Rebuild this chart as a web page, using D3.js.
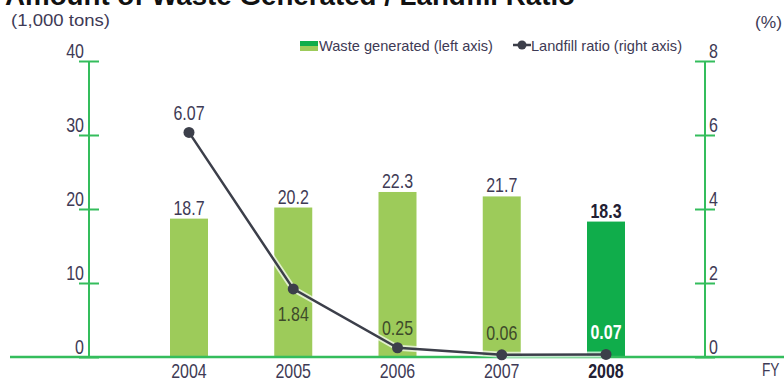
<!DOCTYPE html>
<html><head><meta charset="utf-8">
<script src="https://cdn.jsdelivr.net/npm/d3@7"></script>
<style>body{margin:0;background:#fff}svg{display:block}</style>
</head><body>
<svg id="c" width="784" height="381"></svg>
<script>
const years = ["2004","2005","2006","2007","2008"];
const waste = [18.7, 20.2, 22.3, 21.7, 18.3];
const landfill = [6.07, 1.84, 0.25, 0.06, 0.07];
const leftTicks = [0, 10, 20, 30, 40];
const rightTicks = [0, 2, 4, 6, 8];
const title = "Amount of Waste Generated / Landfill Ratio";
const leftUnit = "(1,000 tons)";
const rightUnit = "(%)";
const xUnit = "FY";
const legendWaste = "Waste generated (left axis)";
const legendLandfill = "Landfill ratio (right axis)";

const FONT = "'Liberation Sans',Arial,sans-serif";
const TXT = "#3e3a55";
const GREEN = "#34bd5c";
const LIGHT = "#9dcb5a";
const DARK = "#10ad4b";
const LINE = "#3c3f4a";
const SQUEEZE = 0.76;
const FS = 21;

const svg = d3.select("#c").style("font-family", FONT);
const x = d3.scalePoint().domain(years).range([189, 606]);
const yL = d3.scaleLinear().domain([0, 40]).range([357, 61]);
const yR = d3.scaleLinear().domain([0, 8]).range([357, 61]);
const barW = 38;

// title (cut at top, as in the reference)
svg.append("text").attr("class", "fixed").attr("x", 5).attr("y", 5)
  .attr("font-weight", "bold").attr("font-size", 27).attr("fill", "#111")
  .attr("textLength", 570).attr("lengthAdjust", "spacingAndGlyphs").text(title);

svg.append("text").attr("class", "fixed").attr("x", 11).attr("y", 26).attr("font-size", 17).attr("fill", TXT)
  .attr("textLength", 99).attr("lengthAdjust", "spacingAndGlyphs").text(leftUnit);
svg.append("text").attr("class", "fixed").attr("x", 755).attr("y", 28).attr("font-size", 17).attr("fill", TXT)
  .attr("textLength", 27).attr("lengthAdjust", "spacingAndGlyphs").text(rightUnit);

// bars
svg.selectAll("rect.bar").data(years).join("rect").attr("class", "bar")
  .attr("x", d => x(d) - barW / 2).attr("width", barW)
  .attr("y", (d, i) => yL(waste[i])).attr("height", (d, i) => yL(0) - yL(waste[i]))
  .attr("fill", (d, i) => i === years.length - 1 ? DARK : LIGHT);

// bar labels
svg.selectAll("text.bl").data(years).join("text").attr("class", "bl")
  .attr("x", d => x(d)).attr("y", (d, i) => yL(waste[i]) - 4)
  .attr("text-anchor", "middle").attr("font-size", FS)
  .attr("font-weight", (d, i) => i === years.length - 1 ? "bold" : "normal")
  .attr("fill", (d, i) => i === years.length - 1 ? "#222033" : TXT)
  .attr("stroke", "#fff").attr("stroke-width", 3).attr("paint-order", "stroke")
  .text((d, i) => waste[i].toFixed(1));

// axes
const axL = d3.axisRight(yL).tickValues(leftTicks).tickSize(10).tickFormat(d3.format("d"));
const gL = svg.append("g").attr("transform", "translate(89,0)").call(axL);
const axR = d3.axisRight(yR).tickValues(rightTicks).tickSize(10).tickFormat(d3.format("d"));
const gR = svg.append("g").attr("transform", "translate(705,0)").call(axR);
[gL, gR].forEach((g, k) => {
  g.select(".domain").attr("d", `M0,${yL(40)}V${yL(0)}`).attr("stroke", GREEN).attr("stroke-width", 2);
  g.selectAll(".tick line").attr("x1", -10).attr("x2", 10).attr("stroke", GREEN).attr("stroke-width", 2);
  g.selectAll(".tick text").attr("font-size", FS).attr("fill", TXT).attr("font-family", FONT)
    .attr("dy", "-4").attr("y", 0)
    .attr("x", k === 0 ? -5 : 4).attr("text-anchor", k === 0 ? "end" : "start");
});

// baseline
svg.append("line").attr("x1", 10).attr("x2", 784).attr("y1", yL(0)).attr("y2", yL(0))
  .attr("stroke", GREEN).attr("stroke-width", 2.5);

// line
const lineGen = d3.line().x((d, i) => x(years[i])).y(d => yR(d));
svg.append("path").datum(landfill).attr("d", lineGen).attr("fill", "none")
  .attr("stroke", "#fff").attr("stroke-opacity", 0.7).attr("stroke-width", 6);
svg.append("path").datum(landfill).attr("d", lineGen).attr("fill", "none")
  .attr("stroke", LINE).attr("stroke-width", 2.5);
svg.selectAll("circle.pt").data(landfill).join("circle").attr("class", "pt")
  .attr("cx", (d, i) => x(years[i])).attr("cy", d => yR(d)).attr("r", 5.5).attr("fill", LINE);

// point labels
const off = [-12, 32, -13, -15, -15];
svg.selectAll("text.pl").data(landfill).join("text").attr("class", "pl")
  .attr("x", (d, i) => x(years[i])).attr("y", (d, i) => yR(d) + off[i])
  .attr("text-anchor", "middle").attr("font-size", FS)
  .attr("font-weight", (d, i) => i === years.length - 1 ? "bold" : "normal")
  .attr("fill", (d, i) => i === years.length - 1 ? "#fff" : (i === 0 ? TXT : "#3d4a2a"))
  .text(d => d.toFixed(2));

// year labels
svg.selectAll("text.yr").data(years).join("text").attr("class", "yr")
  .attr("x", d => x(d)).attr("y", 378).attr("text-anchor", "middle").attr("font-size", FS)
  .attr("font-weight", (d, i) => i === years.length - 1 ? "bold" : "normal")
  .attr("fill", (d, i) => i === years.length - 1 ? "#222033" : TXT).text(d => d);
svg.append("text").attr("x", 762).attr("y", 376).attr("font-size", 18).attr("fill", TXT).text(xUnit);

// legend
const lg = svg.append("g");
lg.append("rect").attr("x", 300).attr("y", 41).attr("width", 18).attr("height", 5).attr("fill", DARK);
lg.append("rect").attr("x", 300).attr("y", 46).attr("width", 18).attr("height", 5).attr("fill", LIGHT);
lg.append("text").attr("class", "fixed").attr("x", 319).attr("y", 51).attr("font-size", 15).attr("fill", TXT)
  .attr("textLength", 174).attr("lengthAdjust", "spacingAndGlyphs").text(legendWaste);
lg.append("line").attr("x1", 513).attr("x2", 531).attr("y1", 45).attr("y2", 45).attr("stroke", LINE).attr("stroke-width", 2.5);
lg.append("circle").attr("cx", 522).attr("cy", 45).attr("r", 4.5).attr("fill", LINE);
lg.append("text").attr("class", "fixed").attr("x", 531).attr("y", 51).attr("font-size", 15).attr("fill", TXT)
  .attr("textLength", 151).attr("lengthAdjust", "spacingAndGlyphs").text(legendLandfill);

// condense remaining texts (reference uses a condensed face)
svg.selectAll("text").filter(function () { return !this.classList.contains("fixed"); })
  .each(function () {
    const w = this.getComputedTextLength();
    d3.select(this).attr("textLength", (w * SQUEEZE).toFixed(1)).attr("lengthAdjust", "spacingAndGlyphs");
  });
</script>
</body></html>
